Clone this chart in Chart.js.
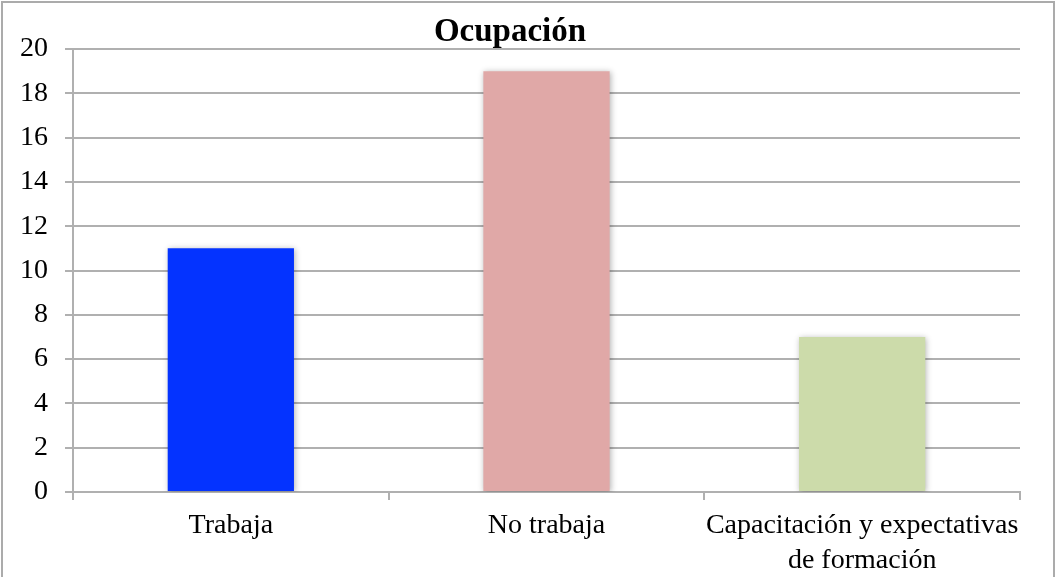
<!DOCTYPE html>
<html>
<head>
<meta charset="utf-8">
<script src="https://cdn.jsdelivr.net/npm/chart.js@4"></script>
<style>
  html, body { margin: 0; padding: 0; background: #fff; }
  #wrap { position: relative; width: 1058px; height: 577px; overflow: hidden; }
  #frame { position: absolute; left: 1px; top: 1px; width: 1050px; height: 600px; border: 2px solid #ababab; pointer-events: none; }
</style>
</head>
<body>
<div id="wrap">
  <canvas id="chart" width="1058" height="577"></canvas>
  <div id="frame"></div>
</div>
<script>
// Data
const categories = ['Trabaja', 'No trabaja', ['Capacitación y expectativas', 'de formación']];
const values = [11, 19, 7];
const barColors = ['#0433ff', '#e0a8a7', '#ccdbaa'];
const chartTitle = 'Ocupación';

const serif = "'Liberation Serif', 'DejaVu Serif', serif";

// soft drop shadow behind the bars
const barShadow = {
    id: 'barShadow',
    beforeDatasetsDraw(chart) {
        const ctx = chart.ctx;
        ctx.save();
        ctx.shadowColor = 'rgba(0, 0, 0, 0.3)';
        ctx.shadowBlur = 6;
        ctx.shadowOffsetX = 1;
        ctx.shadowOffsetY = 1;
    },
    afterDatasetsDraw(chart) {
        chart.ctx.restore();
    }
};

const ctx = document.getElementById('chart').getContext('2d');
new Chart(ctx, {
    type: 'bar',
    data: {
        labels: categories,
        datasets: [{
            data: values,
            backgroundColor: barColors,
            borderWidth: 0,
            categoryPercentage: 1,
            barPercentage: 0.4
        }]
    },
    plugins: [barShadow],
    options: {
        responsive: false,
        animation: false,
        layout: { padding: { left: 0, right: 38, top: 0, bottom: 0 } },
        plugins: {
            legend: { display: false },
            tooltip: { enabled: false },
            title: {
                display: true,
                text: chartTitle,
                color: '#000',
                font: { family: serif, size: 33, weight: 'bold', lineHeight: 1 },
                padding: { top: 16, bottom: 0 }
            }
        },
        scales: {
            y: {
                min: 0,
                max: 20,
                ticks: { stepSize: 2, color: '#000', padding: 17, font: { family: serif, size: 28 } },
                grid: { color: '#b0b0b0', lineWidth: 2, tickLength: 8 },
                border: { color: '#b0b0b0', width: 2 },
                afterFit(scale) { scale.width = 73; }
            },
            x: {
                ticks: {
                    color: '#000', padding: 8, maxRotation: 0, minRotation: 0, autoSkip: false,
                    font: { family: serif, size: 28, lineHeight: 1.25 }
                },
                grid: { drawOnChartArea: false, color: '#b0b0b0', lineWidth: 2, tickLength: 8 },
                border: { color: '#b0b0b0', width: 2 },
                afterFit(scale) { scale.height = 85; }
            }
        }
    }
});
</script>
</body>
</html>
